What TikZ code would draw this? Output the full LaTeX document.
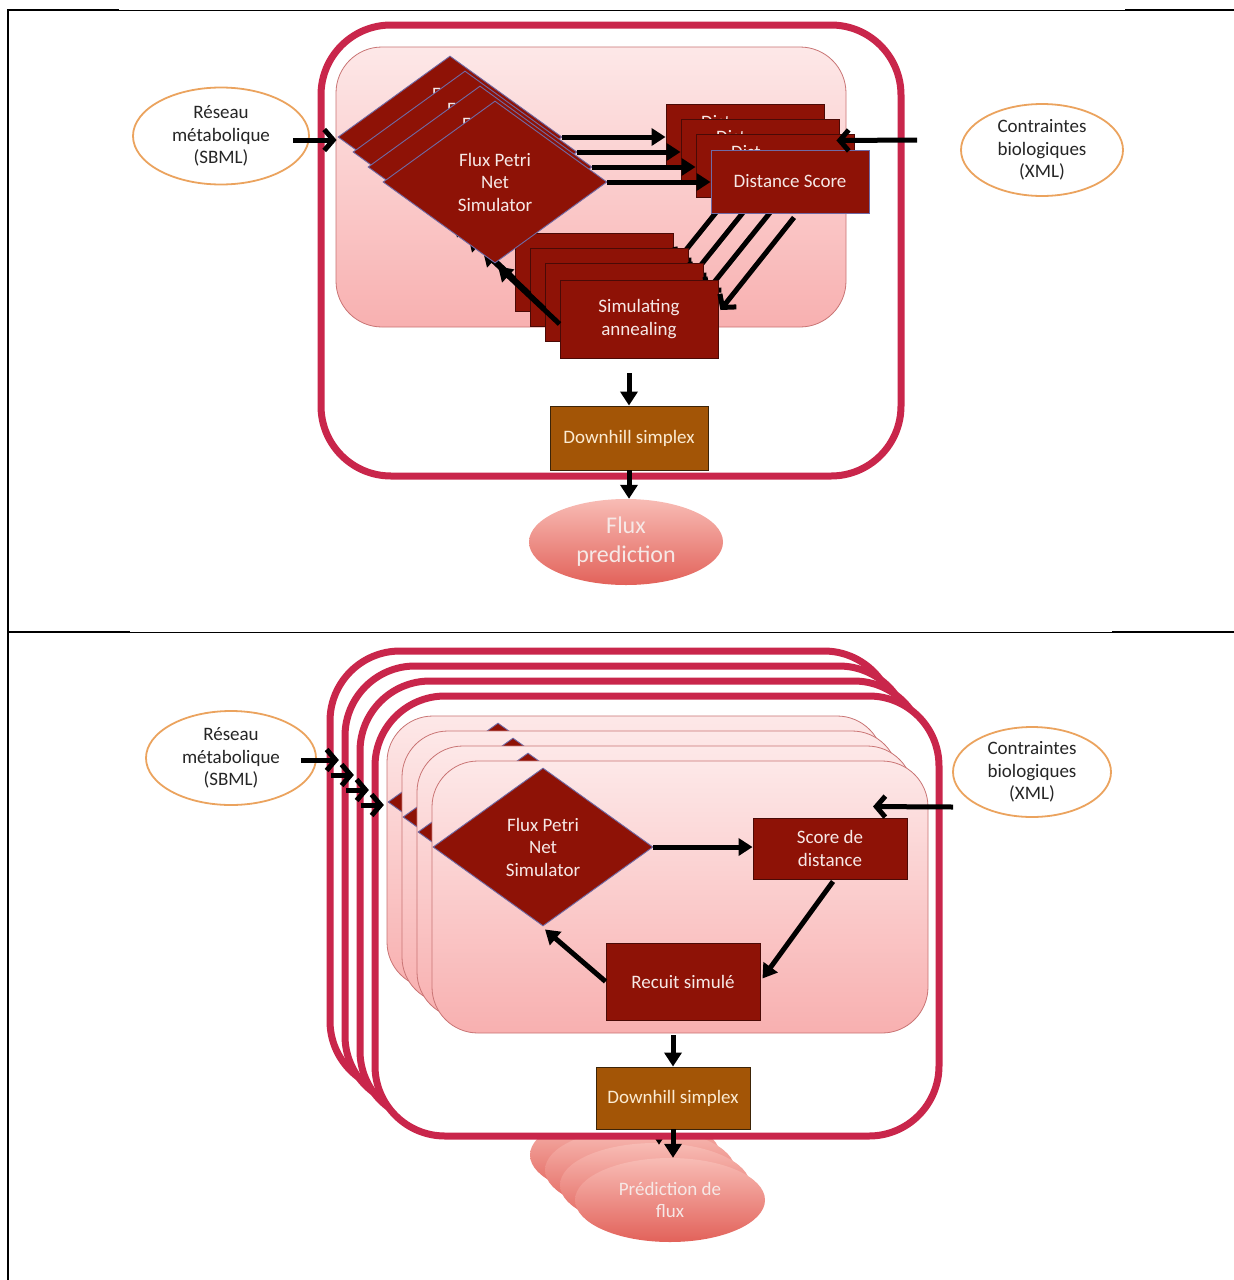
\documentclass[tikz,border=0pt]{standalone}
\usepackage{fontspec}
\setmainfont{Carlito}
\usetikzlibrary{arrows.meta,shapes.geometric,calc}

\definecolor{boxred}{HTML}{8E1206}
\definecolor{boxedge}{HTML}{4A0A06}
\definecolor{lilacedge}{HTML}{6F6AA6}
\definecolor{framered}{HTML}{C9264B}
\definecolor{pinktop}{HTML}{FDE8E8}
\definecolor{pinkbot}{HTML}{F8B0B0}
\definecolor{pinkedge}{HTML}{C97474}
\definecolor{simplexfill}{HTML}{A35506}
\definecolor{simplexedge}{HTML}{3C2408}
\definecolor{ovaledge}{HTML}{EBA35E}
\definecolor{predtop}{HTML}{F8BCB5}
\definecolor{predbot}{HTML}{E2625A}
\definecolor{lighttext}{HTML}{F6E8E6}
\definecolor{simplextext}{HTML}{FBEBD2}
\definecolor{darktext}{HTML}{262626}

\tikzset{
  txt/.style={font=\fontsize{19}{22.5}\selectfont, align=center},
  redbox/.style={txt, draw=boxedge, line width=0.9pt, fill=boxred, text=lighttext,
    minimum width=158pt, inner sep=0pt},
  rhombus/.style={txt, diamond, draw=lilacedge, line width=0.9pt, fill=boxred, text=lighttext,
    inner sep=0pt, minimum width=224pt, minimum height=162pt},
  lbl/.style={txt, text=lighttext, inner sep=0pt},
  simplex/.style={txt, draw=simplexedge, line width=0.9pt, fill=simplexfill, text=simplextext,
    minimum width=158pt, inner sep=0pt},
  oval/.style={txt, ellipse, draw=ovaledge, line width=1.8pt, fill=white, text=darktext, inner sep=0pt},
  predoval/.style={txt, ellipse, top color=predtop, bottom color=predbot, text=lighttext, inner sep=0pt},
  outerframe/.style={draw=framered, line width=7pt, fill=white, rounded corners=70pt},
  inner/.style={draw=pinkedge, line width=0.8pt, top color=pinktop, bottom color=pinkbot, rounded corners=46pt},
  arr/.style={line width=5pt, -{Triangle[length=14pt,width=17pt]}},
  barb/.style={line width=5pt, -{Straight Barb[length=9pt,width=21pt]}},
  rule/.style={line width=1pt, black},
  thickrule/.style={line width=2.4pt, black}
}

\begin{document}
\begin{tikzpicture}[x=1pt,y=-1pt]
\useasboundingbox (0,0) rectangle (1234,1280);

% ---- table rules ----
\draw[rule] (8,10) -- (1234,10);
\draw[thickrule] (8,10) -- (119,10);
\draw[thickrule] (1125,10) -- (1234,10);
\draw[rule] (8,632) -- (1234,632);
\draw[thickrule] (8,632) -- (130,632);
\draw[thickrule] (1112,632) -- (1234,632);
\draw[line width=2.6pt] (8,9) -- (8,1280);

% =========================================================
% Upper panel: stacked simulator, score and annealing blocks
% =========================================================
\draw[outerframe] (321,25) rectangle (901,476);
\draw[inner] (336,47) rectangle (846,327);

% back copies of the loop (their labels are mostly hidden by the next copy)
\foreach \i in {0,1,2}{
  \node[redbox, minimum height=78pt] (ann\i) at (594+15*\i, 272+15*\i) {};
  \node[redbox, minimum height=63pt] (dist\i) at (745+15*\i, 135.5+15*\i) {};
  \node[lbl, anchor=base west] at (701+15*\i, 128+15*\i) {Dist};
  \node[rhombus] (dia\i) at (450+15*\i, 137+15*\i) {};
  \node[lbl, anchor=base west] at (432+15*\i, 100+15*\i) {F};
  \draw[arr] (dia\i.east) -- (dia\i.east -| dist\i.west);
  \draw[barb] ($(dist\i.south)+(4,4)$) -- ($(ann\i.east)+(2,-9)$);
  \draw[arr] ($(ann\i.west)+(0,7)$) -- ($(dia\i.south)+(3,3)$);
}

% front copy
\node[redbox, minimum height=78pt] (ann3) at (639,319) {Simulating\\annealing};
\node[redbox, draw=lilacedge, minimum height=63pt] (dist3) at (790,181.5) {Distance Score};
\node[rhombus] (dia3) at (495,182) {Flux Petri\\Net\\Simulator};
\draw[arr] (dia3.east) -- (dia3.east -| dist3.west);
\draw[barb] ($(dist3.south)+(4,4)$) -- ($(ann3.east)+(2,-9)$);
\draw[arr] ($(ann3.west)+(0,5)$) -- ($(dia3.south)+(3,3)$);

% refinement and result
\node[simplex, minimum height=64pt] (dh1) at (629,438) {Downhill simplex};
\node[predoval, minimum width=194pt, minimum height=86pt,
      font=\fontsize{24}{29}\selectfont] (flux) at (626,542) {Flux\\prediction};
\draw[arr] ($(ann3.south -| dh1.north)+(0,15)$) -- (dh1.north);
\draw[arr] (dh1.south) -- (dh1.south |- flux.north);

% inputs
\node[oval, minimum width=176pt, minimum height=97pt] (res1) at (221,136) {Réseau\\métabolique\\(SBML)};
\node[oval, minimum width=162pt, minimum height=92pt] (con1) at (1042,150) {Contraintes\\biologiques\\(XML)};
\draw[barb] ($(res1.east |- dia0.west)+(-17,3)$) -- ($(dia0.west)+(-1,3)$);
\draw[barb] ($(con1.west)+(-43,-10)$) -- ($(dist1.east)+(-3,-10)$);

% =========================================================
% Lower panel: four stacked copies of the whole optimisation
% =========================================================
% result ovals (back copies first)
\foreach \k in {0,1,2}{
  \node[predoval, minimum width=190pt, minimum height=84pt] (pred\k) at (625+15*\k, 1155+15*\k) {};
  \draw[arr] ($(pred\k.north)+(4,-29)$) -- ($(pred\k.north)+(4,2)$);
}
\node[predoval, minimum width=190pt, minimum height=84pt] (pred3) at (670,1200) {Prédiction de\\flux};

% frames
\foreach \k in {0,1,2,3}{
  \draw[outerframe] (330+15*\k, 651+15*\k) rectangle (894+15*\k, 1091+15*\k);
}

% pink panels with their simulators
\foreach \k in {0,1,2}{
  \draw[inner] (387+15*\k, 716+15*\k) rectangle (883+15*\k, 988+15*\k);
  \node[rhombus, minimum width=220pt, minimum height=158pt] (dib\k) at (498+15*\k, 802+15*\k) {};
}
\draw[inner] (432,761) rectangle (928,1033);
\node[rhombus, minimum width=220pt, minimum height=158pt] (dib3) at (543,847) {Flux Petri\\Net\\Simulator};

\node[redbox, minimum width=154pt, minimum height=61pt] (score) at (830,848.5) {Score de\\distance};
\node[redbox, minimum width=154pt, minimum height=77pt] (recuit) at (683,981.5) {Recuit simulé};
\node[simplex, minimum width=154pt, minimum height=62pt] (dh2) at (673,1098) {Downhill simplex};

\draw[arr] (dib3.east) -- (dib3.east -| score.west);
\draw[arr] ($(score.south)+(3,2)$) -- ($(recuit.east)+(2,-3)$);
\draw[arr] (recuit.west) -- ($(dib3.south)+(2,3)$);
\draw[arr] ($(recuit.south -| dh2.north)+(0,15)$) -- (dh2.north);
\draw[arr] (dh2.south) -- (dh2.south |- pred3.north);

% inputs
\node[oval, minimum width=170pt, minimum height=94pt] (res2) at (231,758) {Réseau\\métabolique\\(SBML)};
\node[oval, minimum width=158pt, minimum height=90pt] (con2) at (1032,772) {Contraintes\\biologiques\\(XML)};
\draw[barb] ($(res2.east)+(-16,2)$) -- ($(res2.east)+(22,2)$);
\foreach \k in {1,2,3}{
  \draw[barb] ($(res2.east)+(-1+15*\k, 2+15*\k)$) -- ($(res2.east)+(22+15*\k, 2+15*\k)$);
}
\draw[barb] ($(con2.west)+(1,35)$) -- ($(score.north)+(43,-11)$);

\end{tikzpicture}
\end{document}
